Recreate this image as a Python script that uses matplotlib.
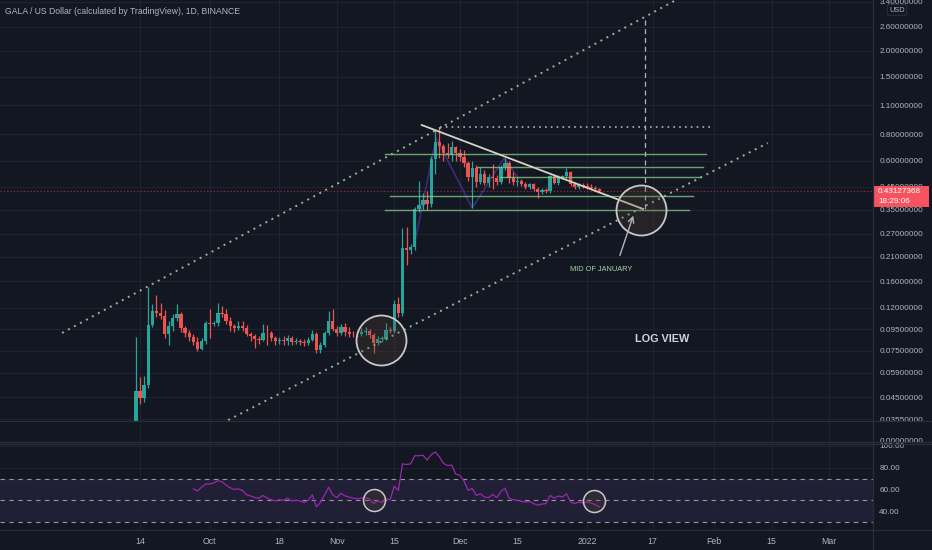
import numpy as np
import pandas as pd
import matplotlib
matplotlib.use('Agg')
import matplotlib.pyplot as plt
import matplotlib.dates as mdates
from matplotlib.patches import Rectangle
from matplotlib.lines import Line2D
from matplotlib.ticker import NullLocator

# daily candles GALA/USD from 2021-09-13
open_ = [0.034, 0.048, 0.0445, 0.0515, 0.099, 0.1157, 0.113, 0.1095, 0.0899, 0.0981,
         0.1071, 0.112, 0.096, 0.0909, 0.087, 0.0824, 0.0763, 0.0833, 0.1014, 0.1005,
         0.102, 0.1132, 0.112, 0.1037, 0.0981, 0.096, 0.0981, 0.096, 0.0899, 0.088,
         0.0851, 0.0846, 0.0909, 0.0905, 0.0861, 0.0833, 0.0845, 0.083, 0.0861, 0.0824,
         0.0833, 0.082, 0.0815, 0.0842, 0.0899, 0.0755, 0.0798, 0.0909, 0.1037, 0.095,
         0.0909, 0.097, 0.0918, 0.0899, 0.0895, 0.09, 0.0918, 0.093, 0.0889, 0.0815,
         0.0851, 0.0855, 0.0939, 0.093, 0.125, 0.1132, 0.23, 0.226, 0.233, 0.353,
         0.369, 0.39, 0.373, 0.61, 0.735, 0.703, 0.655, 0.64, 0.696, 0.652,
         0.624, 0.584, 0.501, 0.553, 0.474, 0.52, 0.469, 0.501, 0.495, 0.474,
         0.559, 0.584, 0.496, 0.474, 0.48, 0.464, 0.449, 0.464, 0.44, 0.425,
         0.435, 0.428, 0.507, 0.47, 0.501, 0.505, 0.529, 0.464, 0.449, 0.459,
         0.454, 0.449, 0.446, 0.44]
high = [0.087, 0.056, 0.057, 0.15, 0.125, 0.138, 0.126, 0.117, 0.104, 0.112,
        0.125, 0.115, 0.098, 0.094, 0.09, 0.087, 0.086, 0.104, 0.118, 0.104,
        0.126, 0.122, 0.118, 0.108, 0.1, 0.104, 0.104, 0.099, 0.092, 0.09,
        0.088, 0.1, 0.099, 0.093, 0.088, 0.087, 0.088, 0.089, 0.088, 0.086,
        0.085, 0.085, 0.087, 0.094, 0.092, 0.082, 0.093, 0.116, 0.118, 0.098,
        0.1, 0.102, 0.097, 0.093, 0.093, 0.096, 0.097, 0.095, 0.091, 0.088,
        0.088, 0.102, 0.097, 0.13, 0.135, 0.287, 0.29, 0.24, 0.36, 0.48,
        0.42, 0.43, 0.63, 0.838, 0.866, 0.72, 0.73, 0.74, 0.7, 0.68,
        0.67, 0.6, 0.6, 0.57, 0.56, 0.54, 0.52, 0.58, 0.51, 0.57,
        0.617, 0.6, 0.53, 0.5, 0.49, 0.475, 0.47, 0.47, 0.45, 0.445,
        0.445, 0.515, 0.52, 0.51, 0.515, 0.553, 0.535, 0.475, 0.47, 0.47,
        0.468, 0.465, 0.455, 0.445]
low = [0.03, 0.042, 0.043, 0.05, 0.097, 0.108, 0.106, 0.086, 0.08, 0.093,
       0.104, 0.092, 0.087, 0.083, 0.08, 0.075, 0.0755, 0.081, 0.086, 0.098,
       0.098, 0.108, 0.1, 0.093, 0.092, 0.094, 0.093, 0.088, 0.083, 0.077,
       0.081, 0.083, 0.08, 0.083, 0.08, 0.081, 0.08, 0.08, 0.08, 0.081,
       0.08, 0.079, 0.08, 0.083, 0.0731, 0.073, 0.078, 0.089, 0.093, 0.088,
       0.089, 0.088, 0.087, 0.087, 0.087, 0.088, 0.089, 0.086, 0.0731, 0.08,
       0.082, 0.084, 0.091, 0.091, 0.108, 0.11, 0.191, 0.215, 0.225, 0.34,
       0.35, 0.35, 0.36, 0.52, 0.62, 0.6, 0.62, 0.6, 0.6, 0.6,
       0.56, 0.48, 0.357, 0.45, 0.465, 0.46, 0.45, 0.44, 0.46, 0.465,
       0.54, 0.47, 0.46, 0.455, 0.455, 0.44, 0.44, 0.43, 0.398, 0.415,
       0.42, 0.42, 0.465, 0.46, 0.49, 0.495, 0.455, 0.44, 0.44, 0.445,
       0.44, 0.44, 0.432, 0.425]
close = [0.048, 0.0445, 0.0515, 0.099, 0.1157, 0.113, 0.1095, 0.0899, 0.0981, 0.1071,
         0.112, 0.096, 0.0909, 0.087, 0.0824, 0.0763, 0.0833, 0.1014, 0.1005, 0.102,
         0.1132, 0.112, 0.1037, 0.0981, 0.096, 0.0981, 0.096, 0.0899, 0.088, 0.0851,
         0.0846, 0.0909, 0.0905, 0.0861, 0.0833, 0.0845, 0.083, 0.0861, 0.0824, 0.0833,
         0.082, 0.0815, 0.0842, 0.0899, 0.0755, 0.0798, 0.0909, 0.1037, 0.095, 0.0909,
         0.097, 0.0918, 0.0899, 0.0895, 0.09, 0.0918, 0.093, 0.0889, 0.0815, 0.0851,
         0.0855, 0.0939, 0.093, 0.125, 0.1132, 0.23, 0.226, 0.233, 0.353, 0.369,
         0.39, 0.373, 0.61, 0.735, 0.703, 0.655, 0.64, 0.696, 0.652, 0.624,
         0.584, 0.501, 0.553, 0.474, 0.52, 0.469, 0.501, 0.495, 0.474, 0.559,
         0.584, 0.496, 0.474, 0.48, 0.464, 0.449, 0.464, 0.44, 0.425, 0.435,
         0.428, 0.507, 0.47, 0.501, 0.505, 0.529, 0.464, 0.449, 0.459, 0.454,
         0.449, 0.446, 0.44, 0.4313]

# RSI(14), first value on day 14
rsi = [60.5, 58.5, 62, 65, 65, 66, 68, 67, 64, 61.5,
       60, 60.5, 59, 55, 54, 52.5, 52, 54.5, 52, 50.5,
       49.5, 50.5, 50, 52, 49.5, 50, 49.5, 48, 50, 55,
       44, 48, 55, 62, 55, 52.5, 56.5, 54, 53, 52,
       51.5, 52, 52.5, 51, 47, 49.5, 48, 51.5, 50.5, 63,
       59, 83.5, 83, 83.5, 91, 91, 91.5, 87, 92, 94.5,
       90, 84, 82, 82.5, 74, 73, 68, 59, 61, 54.5,
       56, 53, 52.5, 55.5, 52.5, 58, 61, 52, 50.5, 50,
       49, 48.5, 49, 47, 45.5, 46.5, 47, 54.5, 52, 54,
       53, 56, 48.5, 47, 48.5, 47.5, 48.5, 47.5, 46, 44]

last_price = 0.43127368
price_ticks = [3.4, 2.6, 2.0, 1.5, 1.1, 0.8, 0.6, 0.45, 0.35, 0.27, 0.21, 0.16,
               0.12, 0.095, 0.075, 0.059, 0.045, 0.0355]
rsi_ticks = [40, 60, 80, 100]
date_ticks = ['2021-09-14', '2021-10-01', '2021-10-18', '2021-11-01', '2021-11-15',
              '2021-12-01', '2021-12-15', '2022-01-01', '2022-01-17', '2022-02-01',
              '2022-02-15', '2022-03-01']
date_labels = ['14', 'Oct', '18', 'Nov', '15', 'Dec', '15', '2022', '17', 'Feb', '15', 'Mar']

BG = '#131722'
GRID = '#1f2330'
BORDER = '#2a2e39'
TXT = '#b2b5be'
UP, DOWN = '#26a69a', '#ef5350'
FS = 5.9

plt.rcParams['font.family'] = ['Liberation Sans', 'DejaVu Sans']

o = np.array(open_); h = np.array(high); l = np.array(low); c = np.array(close)
start = pd.Timestamp('2021-09-13')
dates = pd.date_range(start, periods=len(c), freq='D')
x = mdates.date2num(dates)
x0 = mdates.date2num(start)
tx = mdates.date2num(pd.to_datetime(date_ticks))
xlim = (x0 - 33.14, x0 + 179.74)

W, H = 932, 550
fig = plt.figure(figsize=(9.32, 5.5), dpi=100, facecolor=BG)

def fy(py):
    return 1 - py / H

# price pane
ax = fig.add_axes([0, fy(421), 873 / W, 421 / H])
ax.set_facecolor(BG)
ax.set_yscale('log')
ax.set_ylim(0.03474, 3.475)
ax.set_xlim(*xlim)
ax.yaxis.tick_right()
ax.set_yticks(price_ticks)
ax.set_yticklabels([f'{v:.8f}' for v in price_ticks])
ax.yaxis.set_minor_locator(NullLocator())
ax.set_xticks(tx)
ax.tick_params(axis='y', length=0, pad=4.5, labelsize=FS, colors=TXT)
ax.tick_params(axis='x', length=0, labelbottom=False)
ax.grid(color=GRID, lw=0.8)
for s in ax.spines.values():
    s.set_visible(False)

colors = np.where(c >= o, UP, DOWN)
ax.vlines(x, l, h, colors=colors, lw=0.9, zorder=3)
body = np.maximum(np.abs(c - o), np.minimum(o, c) * 0.01)
ax.bar(x, body, bottom=np.minimum(o, c), width=0.8, color=colors, lw=0, zorder=3)

ax.axhline(last_price, color='#f23645', lw=0.8, ls=(0, (1, 2)), alpha=0.7, zorder=2)

# drawings
dot = dict(color='#a5d6a7', lw=1.4, ls=(0, (1, 2.5)), alpha=0.85, zorder=4)
ax.plot([x0 - 18, x0 + 131.7], [0.091, 3.475], **dot)
ax.plot([x0 + 22.5, x0 + 154.1], [0.0351, 0.727], **dot)
ax.plot([x0 + 74.2, x0 + 140], [0.863, 0.863], color=TXT, lw=1.2, ls=(0, (1, 2.5)), zorder=4)
ax.plot([x0 + 124.1, x0 + 124.1], [2.79, 0.349], color=TXT, lw=0.9, ls=(0, (4, 3)), zorder=4)

green = dict(color='#81c784', lw=1, alpha=0.8, zorder=4)
ax.plot([x0 + 60.7, x0 + 139.0], [0.645, 0.645], **green)
ax.plot([x0 + 83.2, x0 + 138.3], [0.559, 0.559], **green)
ax.plot([x0 + 88.8, x0 + 137.5], [0.501, 0.501], **green)
ax.plot([x0 + 61.9, x0 + 135.8], [0.407, 0.407], **green)
ax.plot([x0 + 60.7, x0 + 134.9], [0.349, 0.349], **green)

ax.plot([x0 + 68.3, x0 + 73.2, x0 + 82.0, x0 + 89.8, x0 + 93.2],
        [0.260, 0.768, 0.357, 0.617, 0.496], color='#5e35b1', lw=1.2, alpha=0.6, zorder=2.5)
ax.plot([x0 + 69.7, x0 + 123.7], [0.885, 0.353], color='#d6d3c4', lw=1.3, zorder=5)

ax.scatter([x0 + 59.7, x0 + 123.2], [0.0842, 0.349], s=1296,
           facecolors=(0.36, 0.29, 0.22, 0.25), edgecolors='#c8c8c8', linewidths=1.3, zorder=6)

ax.annotate('', xy=(x0 + 121.5, 0.338), xytext=(x0 + 117.8, 0.2065),
            arrowprops=dict(arrowstyle='->', color=TXT, lw=1), zorder=6)
ax.text(x0 + 113.4, 0.183, 'MID OF JANUARY', color='#a5d6a7', fontsize=5.3,
        ha='center', va='center')
ax.text(x0 + 128.3, 0.0852, 'LOG VIEW', color='#d1d4dc', fontsize=7.8,
        fontweight='semibold', ha='center', va='center')

# empty pane
ax2 = fig.add_axes([0, fy(442), 873 / W, 21 / H])
ax2.set_facecolor(BG)
ax2.set_xlim(*xlim)
ax2.set_ylim(-0.1, 1)
ax2.yaxis.tick_right()
ax2.set_yticks([0])
ax2.set_yticklabels(['0.00000000'])
ax2.set_xticks(tx)
ax2.tick_params(axis='y', length=0, pad=4.5, labelsize=FS, colors=TXT)
ax2.tick_params(axis='x', length=0, labelbottom=False)
ax2.grid(axis='x', color=GRID, lw=0.8)
for s in ax2.spines.values():
    s.set_visible(False)

# RSI pane
ax3 = fig.add_axes([0, fy(530), 873 / W, 86 / H])
ax3.set_facecolor(BG)
ax3.set_xlim(*xlim)
ax3.set_ylim(22.7, 101.8)
ax3.axhspan(30, 70, color='#7e57c2', alpha=0.13, lw=0)
for lvl in (30, 50, 70):
    ax3.axhline(lvl, color='#9598a1', lw=0.8, ls=(0, (4, 4)))
ax3.plot(x[14:], rsi, color='#9c27b0', lw=0.9)
ax3.scatter([x0 + 58.1, x0 + 111.7], [50, 49], s=250, facecolors=(0.36, 0.29, 0.22, 0.25),
            edgecolors='#c8c8c8', linewidths=1.1, zorder=5)
ax3.yaxis.tick_right()
ax3.set_yticks(rsi_ticks)
ax3.set_yticklabels([f'{v:.2f}' for v in rsi_ticks])
ax3.set_xticks(tx)
ax3.set_xticklabels(date_labels)
ax3.tick_params(axis='y', length=0, pad=4.5, labelsize=FS, colors=TXT)
ax3.tick_params(axis='x', length=0, pad=5, labelsize=6.3, colors=TXT)
ax3.grid(color=GRID, lw=0.8)
for s in ax3.spines.values():
    s.set_visible(False)

# pane borders
for py in (421, 441.5, 444, 530):
    fig.add_artist(Line2D([0, 1], [fy(py), fy(py)], color=BORDER, lw=0.9))
fig.add_artist(Line2D([873 / W, 873 / W], [0, 1], color=BORDER, lw=0.9))

# last price tag
fig.add_artist(Rectangle((874 / W, fy(207)), 55 / W, 21 / H, color='#f7525f', lw=0))
fig.text(878 / W, fy(191.5), f'{last_price:.8f}', color='white', fontsize=FS, va='center')
fig.text(878 / W, fy(201.5), '18:29:06', color='white', fontsize=FS, va='center')

fig.text(897 / W, fy(10), 'USD', color=TXT, fontsize=5.3, ha='center', va='center',
         bbox=dict(boxstyle='round,pad=0.25', fc=BG, ec=BORDER, lw=0.8))
fig.text(5 / W, fy(12), 'GALA / US Dollar (calculated by TradingView), 1D, BINANCE',
         color=TXT, fontsize=6.2, va='center')

fig.savefig('out.png', dpi=100, facecolor=BG)
